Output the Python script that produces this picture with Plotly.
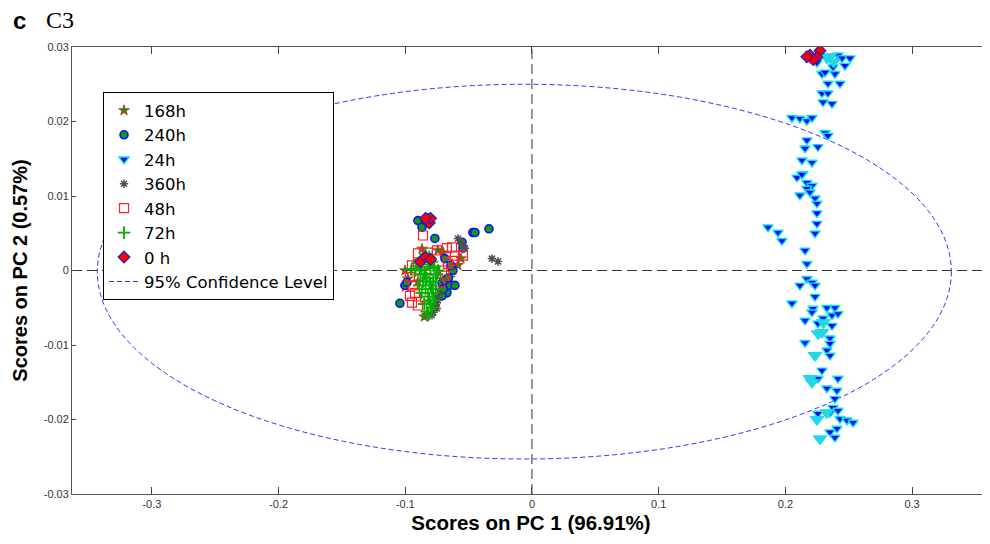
import plotly.graph_objects as go

# ---- data ----
h168_x = [-0.0821, -0.1002, -0.0868, -0.0584, -0.0742, -0.0979, -0.0829, -0.0560, -0.0900, -0.0650, -0.0700, -0.1000, -0.0850]
h168_y = [0.0064, 0.0000, 0.0029, 0.0007, 0.0027, -0.0011, -0.0060, 0.0016, -0.0015, -0.0010, 0.0024, -0.0022, -0.0062]

h240_x = [-0.0900, -0.0868, -0.0766, -0.0466, -0.0450, -0.0339, -0.0552, -0.0545, -0.0687, -0.0631, -0.0624,
          -0.0647, -0.0608, -0.0671, -0.0710, -0.1042, -0.1002, -0.0987, -0.0710, -0.0687, -0.0660, -0.0640, -0.0700]
h240_y = [0.0067, 0.0058, 0.0043, 0.0051, 0.0051, 0.0056, 0.0038, 0.0030, 0.0016, 0.0004, 0.0000,
          -0.0020, -0.0020, -0.0030, -0.0034, -0.0044, -0.0020, -0.0016, -0.0017, -0.0013, -0.0010, 0.0007, -0.0025]

h24_x = [0.2194, 0.2249, 0.2289, 0.2313, 0.2415, 0.2447, 0.2510, 0.2470, 0.2391, 0.2376, 0.2336, 0.2431, 0.2289,
         0.2336, 0.2297, 0.2368, 0.2052, 0.2115, 0.2170, 0.2210, 0.2313, 0.2336, 0.2170, 0.2155, 0.2257, 0.2131,
         0.2210, 0.2092, 0.2139, 0.2131, 0.2170, 0.2210, 0.2170, 0.2115, 0.2194, 0.2234, 0.2249, 0.2249, 0.2249,
         0.1863, 0.1942, 0.1973, 0.2234, 0.2155, 0.2170, 0.2170, 0.2210, 0.2115, 0.2234, 0.2234, 0.2052, 0.2218,
         0.2328, 0.2391, 0.2210, 0.2155, 0.2257, 0.2297, 0.2368, 0.2415, 0.2368, 0.2289, 0.2352, 0.2352, 0.2155,
         0.2234, 0.2328, 0.2352, 0.2289, 0.2194, 0.2257, 0.2328, 0.2415, 0.2407, 0.2391, 0.2376, 0.2257, 0.2352,
         0.2415, 0.2431, 0.2486, 0.2534, 0.2407, 0.2352, 0.2273, 0.2391]
h24_y = [0.0286, 0.0279, 0.0264, 0.0266, 0.0289, 0.0285, 0.0285, 0.0275, 0.0264, 0.0273, 0.0251, 0.0251, 0.0238,
         0.0238, 0.0226, 0.0224, 0.0205, 0.0204, 0.0201, 0.0205, 0.0185, 0.0181, 0.0175, 0.0164, 0.0166, 0.0148,
         0.0145, 0.0125, 0.0130, 0.0129, 0.0118, 0.0114, 0.0110, 0.0101, 0.0105, 0.0097, 0.0090, 0.0077, 0.0063,
         0.0058, 0.0051, 0.0040, 0.0050, 0.0027, 0.0009, -0.0011, -0.0016, -0.0020, -0.0020, -0.0035, -0.0044, -0.0051,
         -0.0050, -0.0050, -0.0056, -0.0067, -0.0071, -0.0064, -0.0060, -0.0058, -0.0074, -0.0083, -0.0091, -0.0098, -0.0097,
         -0.0114, -0.0107, -0.0114, -0.0134, -0.0145, -0.0145, -0.0158, -0.0145, -0.0161, -0.0172, -0.0184, -0.0192, -0.0191,
         -0.0188, -0.0199, -0.0201, -0.0204, -0.0212, -0.0217, -0.0226, -0.0224]

# overlapping light (cyan) triangles in the 24h cloud
h24b_x = [0.2289, 0.2234, 0.2194, 0.2210, 0.2328, 0.2273, 0.2330, 0.2380, 0.2300, 0.2250, 0.2260, 0.2350]
h24b_y = [-0.0083, -0.0114, -0.0145, -0.0150, -0.0191, -0.0226, 0.0285, 0.0280, -0.0070, -0.0200, -0.0085, 0.0287]

h360_x = [-0.0584, -0.0529, -0.0316, -0.0268, -0.0766, -0.0750, -0.0781, -0.0750, -0.0742, -0.0789, -0.0760, -0.0730, -0.0555]
h360_y = [0.0043, 0.0030, 0.0016, 0.0012, -0.0047, -0.0051, -0.0056, -0.0043, -0.0040, -0.0060, -0.0036, -0.0030, 0.0036]

h48_x = [-0.0860, -0.0900, -0.0821, -0.0750, -0.0671, -0.0631, -0.0608, -0.0545, -0.0624, -0.0663, -0.0900, -0.0947,
         -0.0923, -0.0710, -0.0687, -0.0963, -0.0939, -0.0923, -0.0947, -0.0900, -0.0845, -0.0963, -0.0766, -0.0726, -0.0845]
h48_y = [0.0047, 0.0023, 0.0024, 0.0027, 0.0030, 0.0031, 0.0020, 0.0020, 0.0013, 0.0009, 0.0009, 0.0007,
         0.0000, 0.0000, -0.0007, -0.0009, -0.0020, -0.0030, -0.0043, -0.0047, -0.0036, -0.0034, 0.0000, -0.0016, 0.0007]

h72_x = [-0.0900, -0.0870, -0.0850, -0.0830, -0.0810, -0.0800, -0.0790, -0.0780, -0.0820, -0.0810, -0.0800, -0.0790,
         -0.0830, -0.0820, -0.0840, -0.0860, -0.0880, -0.0920, -0.0950, -0.0760, -0.0750, -0.0740, -0.0770, -0.0790,
         -0.0810, -0.0840, -0.0770, -0.0760, -0.0850, -0.0870, -0.0890, -0.0800, -0.0820, -0.0780, -0.0840]
h72_y = [0.0010, 0.0005, -0.0005, -0.0010, -0.0015, -0.0020, -0.0025, -0.0030, -0.0035, -0.0040, -0.0045, -0.0050,
         -0.0055, -0.0060, -0.0025, -0.0015, -0.0005, 0.0000, 0.0002, -0.0010, -0.0005, 0.0000, 0.0005, 0.0012,
         0.0018, 0.0022, -0.0040, -0.0025, -0.0045, -0.0030, -0.0020, 0.0003, 0.0008, -0.0015, -0.0005]

h0_x = [-0.0821, -0.0830, -0.0810, -0.0800, -0.0840, -0.0880, -0.0840, -0.0800, 0.2194, 0.2273, 0.2249, 0.2220, 0.2170]
h0_y = [0.0069, 0.0066, 0.0064, 0.0070, 0.0070, 0.0012, 0.0018, 0.0015, 0.0289, 0.0295, 0.0286, 0.0283, 0.0287]

# 95% confidence ellipse extents
ell_x = [-0.343, 0.331]
ell_y = [-0.0253, 0.0250]

x_ticks = [-0.3, -0.2, -0.1, 0, 0.1, 0.2, 0.3]
x_labels = ["-0.3", "-0.2", "-0.1", "0", "0.1", "0.2", "0.3"]
y_ticks = [0.03, 0.02, 0.01, 0, -0.01, -0.02, -0.03]
y_labels = ["0.03", "0.02", "0.01", "0", "-0.01", "-0.02", "-0.03"]

fig = go.Figure()

fig.add_trace(go.Scatter(x=h168_x, y=h168_y, mode="markers", name="168h",
                         marker=dict(symbol="star", size=8, color="#149614", line=dict(color="#d02020", width=0.8))))
fig.add_trace(go.Scatter(x=h240_x, y=h240_y, mode="markers", name="240h",
                         marker=dict(symbol="circle", size=8, color="#109a10", line=dict(color="#1010ff", width=1.6))))
fig.add_trace(go.Scatter(x=h24_x, y=h24_y, mode="markers", name="24h", legendgroup="24h",
                         marker=dict(symbol="triangle-down", size=9, color="#0000ff", line=dict(color="#10e0f0", width=1.4))))
fig.add_trace(go.Scatter(x=h24b_x, y=h24b_y, mode="markers", name="24h", legendgroup="24h", showlegend=False,
                         marker=dict(symbol="triangle-down", size=12, color="#20d8e8", line=dict(color="#20d8e8", width=1))))
fig.add_trace(go.Scatter(x=h360_x, y=h360_y, mode="markers", name="360h",
                         marker=dict(symbol="asterisk-open", size=7, color="#505050", line=dict(color="#505050", width=1.5))))
fig.add_trace(go.Scatter(x=h48_x, y=h48_y, mode="markers", name="48h",
                         marker=dict(symbol="square-open", size=9, color="#ff2020", line=dict(color="#ff2020", width=1.2))))
fig.add_trace(go.Scatter(x=h72_x, y=h72_y, mode="markers", name="72h",
                         marker=dict(symbol="cross-thin-open", size=9, color="#00b000", line=dict(color="#00b000", width=1.8))))
fig.add_trace(go.Scatter(x=h0_x, y=h0_y, mode="markers", name="0 h",
                         marker=dict(symbol="diamond", size=9, color="#ff0000", line=dict(color="#2020c0", width=1.2))))
fig.add_trace(go.Scatter(x=[None], y=[None], mode="lines", name="95% Confidence Level",
                         line=dict(color="#3030ff", width=1, dash="5px,3px")))

fig.add_shape(type="circle", xref="x", yref="y", x0=ell_x[0], x1=ell_x[1], y0=ell_y[0], y1=ell_y[1],
              line=dict(color="#3030ff", width=1, dash="5px,3px"), layer="below")
fig.add_shape(type="line", xref="paper", yref="y", x0=0, x1=1, y0=0, y1=0,
              line=dict(color="#333333", width=1, dash="10px,5px"), layer="below")
fig.add_shape(type="line", xref="x", yref="paper", x0=0, x1=0, y0=0, y1=1,
              line=dict(color="#333333", width=1, dash="10px,5px"), layer="below")

tick_font = dict(family="Liberation Sans, Arial", size=11, color="#333333")

fig.update_layout(
    width=982, height=536,
    margin=dict(l=64, r=0, t=39, b=50),
    paper_bgcolor="white", plot_bgcolor="white",
    showlegend=True,
    legend=dict(x=0.0338, y=0.899, xanchor="left", yanchor="top",
                bgcolor="white", bordercolor="black", borderwidth=1,
                font=dict(family="DejaVu Sans, Arial", size=16.5, color="black"),
                tracegroupgap=0),
    xaxis=dict(range=[-0.363, 0.3615], tickvals=x_ticks, ticktext=x_labels,
               ticks="inside", ticklen=7, tickcolor="#444", showgrid=False, zeroline=False,
               showline=True, linecolor="#555", linewidth=1, mirror="ticks",
               tickfont=tick_font,
               title=dict(text="<b>Scores on PC 1 (96.91%)</b>", standoff=6,
                          font=dict(family="Liberation Sans, Arial", size=20.5, color="black"))),
    yaxis=dict(range=[-0.03, 0.03], tickvals=y_ticks, ticktext=y_labels,
               ticks="inside", ticklen=4, tickcolor="#444", showgrid=False, zeroline=False,
               showline=True, linecolor="#555", linewidth=1, mirror=False,
               tickfont=tick_font,
               title=dict(text="<b>Scores on PC 2 (0.57%)</b>", standoff=10,
                          font=dict(family="Liberation Sans, Arial", size=20, color="black"))),
    annotations=[
        dict(text="<b>c</b>", xref="paper", yref="paper", x=-0.066, y=1.060, xanchor="left", yanchor="middle",
             showarrow=False, font=dict(family="Liberation Sans, Arial", size=24, color="black")),
        dict(text="C3", xref="paper", yref="paper", x=-0.030, y=1.060, xanchor="left", yanchor="middle",
             showarrow=False, font=dict(family="Liberation Serif, Times New Roman", size=24, color="black")),
    ],
)

fig.write_html("out.html")
